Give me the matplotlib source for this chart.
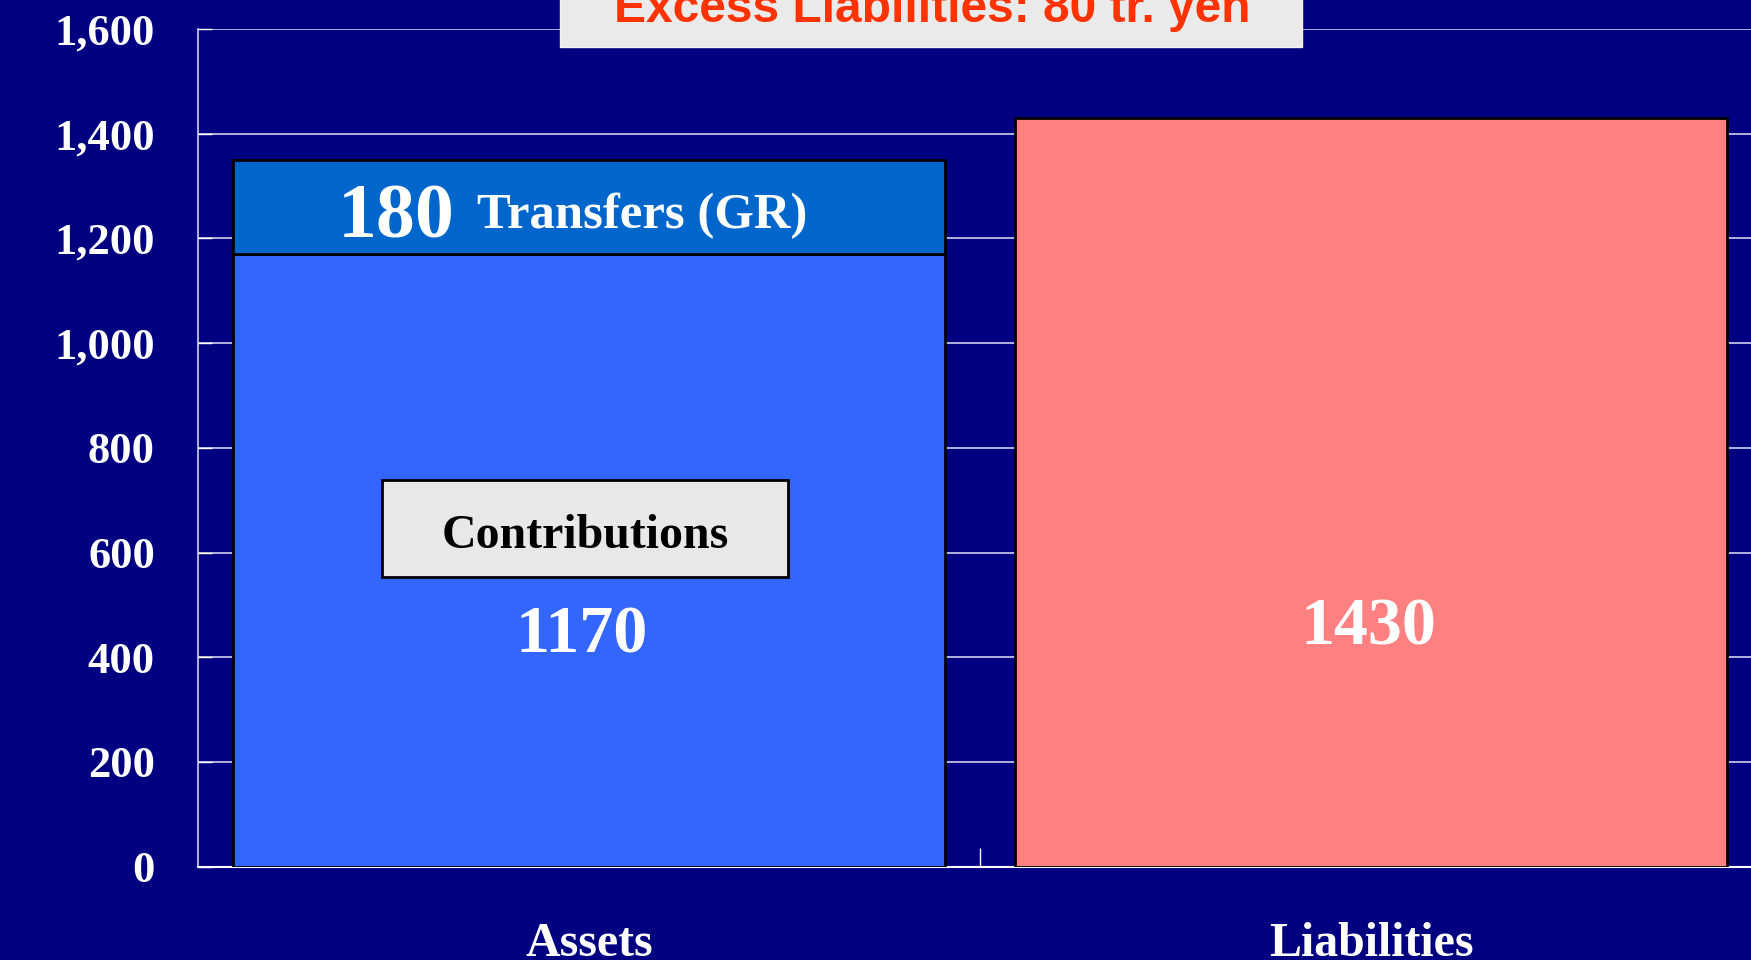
import matplotlib
matplotlib.use("Agg")
import matplotlib.pyplot as plt
from matplotlib.patches import Rectangle

# ---- data ----
categories = ["Assets", "Liabilities"]
contributions = [1170, 0]
transfers = [180, 0]
liabilities = [0, 1430]
yticks = [0, 200, 400, 600, 800, 1000, 1200, 1400, 1600]
ytick_labels = ["0", "200", "400", "600", "800", "1,000", "1,200", "1,400", "1,600"]
title_text = "Excess Liabilities: 80 tr. yen"

BG = "#000080"
SERIF = "Liberation Serif"
SANS = "Liberation Sans"

fig = plt.figure(figsize=(17.51, 9.60), dpi=100, facecolor=BG)
ax = fig.add_axes([198 / 1751, 93.4 / 960, 1564 / 1751, 837.6 / 960])
ax.set_facecolor(BG)

x = list(range(len(categories)))
w = 0.91
ax.bar([x[0]], [contributions[0]], width=w, color="#3366FF", edgecolor="black", linewidth=2, zorder=3)
ax.bar([x[0]], [transfers[0]], bottom=[contributions[0]], width=w, color="#0066CC",
       edgecolor="black", linewidth=2, zorder=3)
ax.bar([x[1]], [liabilities[1]], width=w, color="#FF8080", edgecolor="black", linewidth=2, zorder=3)

ax.set_xlim(-0.5, 1.5)
ax.set_ylim(0, 1600)
ax.set_yticks(yticks)
ax.set_yticklabels(ytick_labels, fontfamily=SERIF, fontweight="bold", fontsize=32, color="white")
ax.tick_params(axis="y", direction="in", length=10, color="white", pad=31, width=1)
ax.yaxis.grid(True, color="#D0D0F0", linewidth=1.2, zorder=0)
ax.set_axisbelow(True)

ax.set_xticks(x)
ax.set_xticklabels(categories, fontfamily=SERIF, fontweight="bold", fontsize=34.5, color="white")
ax.tick_params(axis="x", length=0, pad=40)
ax.set_xticks([0.5], minor=True)
ax.tick_params(axis="x", which="minor", direction="in", length=14, color="white", width=1)

for s in ["top", "right"]:
    ax.spines[s].set_visible(False)
ax.spines["left"].set_color("#D0D0E8")
ax.spines["bottom"].set_color("white")
ax.spines["left"].set_linewidth(1.2)
ax.spines["bottom"].set_linewidth(1.5)

# annotations inside bars
ax.text(-0.247, contributions[0] + transfers[0] / 2 - 22, str(transfers[0]), ha="center", va="center",
        fontfamily=SERIF, fontweight="bold", fontsize=56, color="white", zorder=5)
ax.text(-0.143, contributions[0] + transfers[0] / 2 - 18, "Transfers (GR)", ha="left", va="center",
        fontfamily=SERIF, fontweight="bold", fontsize=36.5, color="white", zorder=5)

ax.add_patch(Rectangle((-0.265, 553), 0.5195, 185, facecolor="#E8E8E8", edgecolor="black",
                       linewidth=2, zorder=4))
ax.text(-0.005, 632, "Contributions", ha="center", va="center",
        fontfamily=SERIF, fontweight="bold", fontsize=34.5, color="black", zorder=5)
ax.text(x[0] - 0.009, 441, str(contributions[0]), ha="center", va="center",
        fontfamily=SERIF, fontweight="bold", fontsize=49, color="white", zorder=5)
ax.text(x[1] - 0.003, 456, str(liabilities[1]), ha="center", va="center",
        fontfamily=SERIF, fontweight="bold", fontsize=49, color="white", zorder=5)

# title box at top (partially cut)
fig.patches.append(Rectangle((560 / 1751, 1 - 47 / 960), 742 / 1751, 0.08, transform=fig.transFigure,
                             facecolor="#EAEAEA", edgecolor="#F4F4F4", linewidth=1, zorder=10))
fig.text(932 / 1751, 1 - 22 / 960, title_text, ha="center", va="baseline",
         fontfamily=SANS, fontweight="bold", fontsize=34.5, color="#FF3300", zorder=11)

fig.savefig("out.png", dpi=100, facecolor=BG)
